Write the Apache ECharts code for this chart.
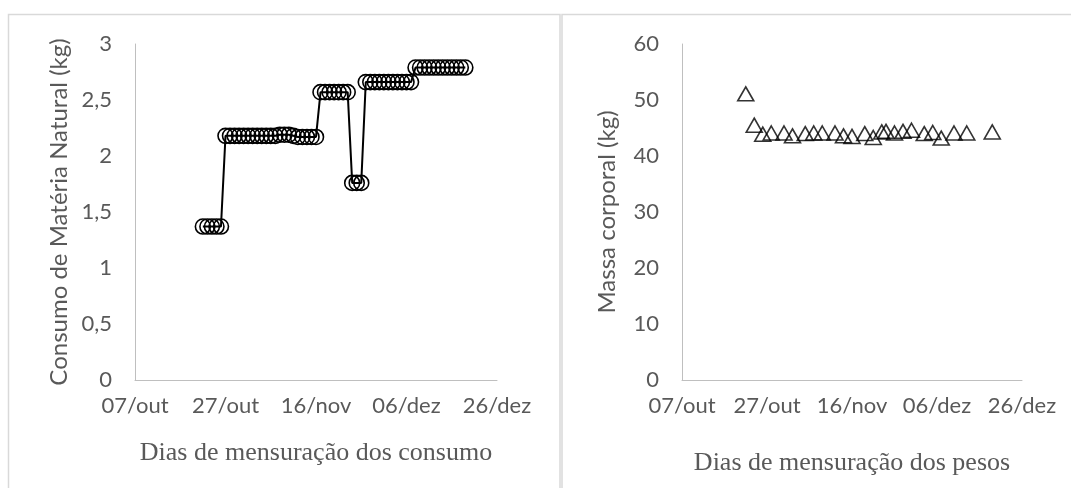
<!DOCTYPE html>
<html lang="pt">
<head>
    <meta charset="UTF-8">
    <script src="https://cdn.jsdelivr.net/npm/echarts@6.0.0/dist/echarts.min.js"></script>
    <style>
        html, body { margin: 0; padding: 0; background: #fff; }
    </style>
</head>
<body>
<div id="chart" style="width: 1071px;height:488px;"></div>
<script type="text/javascript">

    // eixo x: dias a partir de 07/out
    var startDate = "2019-10-07";
    var xTickLabels = ["07/out", "27/out", "16/nov", "06/dez", "26/dez"];

    var consumoDates = [
        "2019-10-22", "2019-10-23", "2019-10-24", "2019-10-25", "2019-10-26",
        "2019-10-27", "2019-10-28", "2019-10-29", "2019-10-30", "2019-10-31",
        "2019-11-01", "2019-11-02", "2019-11-03", "2019-11-04", "2019-11-05",
        "2019-11-06", "2019-11-07", "2019-11-08", "2019-11-09", "2019-11-10",
        "2019-11-11", "2019-11-12", "2019-11-13", "2019-11-14", "2019-11-15",
        "2019-11-16", "2019-11-17", "2019-11-18", "2019-11-19", "2019-11-20",
        "2019-11-21", "2019-11-22", "2019-11-23", "2019-11-24", "2019-11-25",
        "2019-11-26", "2019-11-27", "2019-11-28", "2019-11-29", "2019-11-30",
        "2019-12-01", "2019-12-02", "2019-12-03", "2019-12-04", "2019-12-05",
        "2019-12-06", "2019-12-07", "2019-12-08", "2019-12-09", "2019-12-10",
        "2019-12-11", "2019-12-12", "2019-12-13", "2019-12-14", "2019-12-15",
        "2019-12-16", "2019-12-17", "2019-12-18", "2019-12-19"
    ];
    var consumoValues = [
        1.37, 1.37, 1.37, 1.37, 1.37,
        2.18, 2.18, 2.18, 2.18, 2.18,
        2.18, 2.18, 2.18, 2.18, 2.18,
        2.18, 2.18, 2.19, 2.19, 2.19,
        2.18, 2.17, 2.17, 2.17, 2.17,
        2.17, 2.57, 2.57, 2.57, 2.57,
        2.57, 2.57, 2.57, 1.76, 1.76,
        1.76, 2.66, 2.66, 2.66, 2.66,
        2.66, 2.66, 2.66, 2.66, 2.66,
        2.66, 2.66, 2.79, 2.79, 2.79,
        2.79, 2.79, 2.79, 2.79, 2.79,
        2.79, 2.79, 2.79, 2.79
    ];

    var pesoDates = [
        "2019-10-22", "2019-10-24", "2019-10-26", "2019-10-28", "2019-10-31",
        "2019-11-02", "2019-11-05", "2019-11-07", "2019-11-09", "2019-11-12",
        "2019-11-14", "2019-11-16", "2019-11-19", "2019-11-21", "2019-11-23",
        "2019-11-24", "2019-11-26", "2019-11-28", "2019-11-30", "2019-12-03",
        "2019-12-05", "2019-12-07", "2019-12-10", "2019-12-13", "2019-12-19"
    ];
    var pesoValues = [
        51.1, 45.5, 43.9, 44.1, 44.1,
        43.6, 44.0, 44.1, 44.1, 44.1,
        43.6, 43.5, 44.0, 43.3, 44.3,
        44.4, 44.1, 44.4, 44.6, 44.0,
        44.2, 43.2, 44.1, 44.1, 44.3
    ];

    function dayOffset(d) {
        var a = startDate.split("-").map(Number);
        var b = d.split("-").map(Number);
        return (Date.UTC(b[0], b[1] - 1, b[2]) - Date.UTC(a[0], a[1] - 1, a[2])) / 86400000;
    }

    var textColor = "#595959";
    var axisColor = "#bfbfbf";
    var sansFont = "Lato";
    var serifFont = "Liberation Serif";

    function xAxisFor(gridIndex, title, gap) {
        return {
            gridIndex: gridIndex,
            type: "value",
            min: 0, max: 80, interval: 20,
            name: title,
            nameLocation: "middle",
            nameGap: gap,
            nameTextStyle: { fontFamily: serifFont, fontSize: 26, color: textColor },
            axisLine: { show: true, lineStyle: { color: axisColor, width: 1 } },
            axisTick: { show: false },
            splitLine: { show: false },
            axisLabel: {
                margin: 15,
                fontFamily: sansFont, fontSize: 22, color: textColor,
                formatter: function (v) { return xTickLabels[Math.round(v / 20)]; }
            }
        };
    }

    function yAxisFor(gridIndex, title, max, interval, gap) {
        return {
            gridIndex: gridIndex,
            type: "value",
            min: 0, max: max, interval: interval,
            name: title,
            nameLocation: "middle",
            nameGap: gap,
            nameTextStyle: { fontFamily: sansFont, fontSize: 24, color: textColor },
            axisLine: { show: true, lineStyle: { color: axisColor, width: 1 } },
            axisTick: { show: false },
            splitLine: { show: false },
            axisLabel: {
                margin: 23,
                fontFamily: sansFont, fontSize: 22, color: textColor,
                formatter: function (v) { return String(v).replace(".", ","); }
            }
        };
    }

    var chart = echarts.init(document.getElementById("chart"));
    var option = {
        animation: false,
        backgroundColor: "#fff",
        graphic: [
            { type: "rect", shape: { x: 8.5, y: 14.5, width: 551.5, height: 520 },
              style: { fill: "none", stroke: "#d9d9d9", lineWidth: 1.5 } },
            { type: "rect", shape: { x: 562, y: 14.5, width: 530, height: 520 },
              style: { fill: "none", stroke: "#d9d9d9", lineWidth: 1.5 } }
        ],
        grid: [
            { left: 135, top: 44, width: 362, height: 336 },
            { left: 682, top: 44, width: 340, height: 336 }
        ],
        xAxis: [
            xAxisFor(0, "Dias de mensuração dos consumo", 60),
            xAxisFor(1, "Dias de mensuração dos pesos", 70)
        ],
        yAxis: [
            yAxisFor(0, "Consumo de Matéria Natural (kg)", 3, 0.5, 64),
            yAxisFor(1, "Massa corporal (kg)", 60, 10, 63)
        ],
        series: [
            {
                type: "line",
                xAxisIndex: 0, yAxisIndex: 0,
                data: consumoDates.map(function (d, i) { return [dayOffset(d), consumoValues[i]]; }),
                symbol: "circle",
                symbolSize: 15,
                itemStyle: { color: "rgba(0,0,0,0)", borderColor: "#000", borderWidth: 1.6 },
                lineStyle: { color: "#000", width: 2 }
            },
            {
                type: "scatter",
                xAxisIndex: 1, yAxisIndex: 1,
                data: pesoDates.map(function (d, i) { return [dayOffset(d), pesoValues[i]]; }),
                symbol: "triangle",
                symbolSize: [16, 14],
                itemStyle: { color: "rgba(0,0,0,0)", borderColor: "#000", borderWidth: 1.6 }
            }
        ]
    };
    chart.setOption(option);
</script>
</body>
</html>
